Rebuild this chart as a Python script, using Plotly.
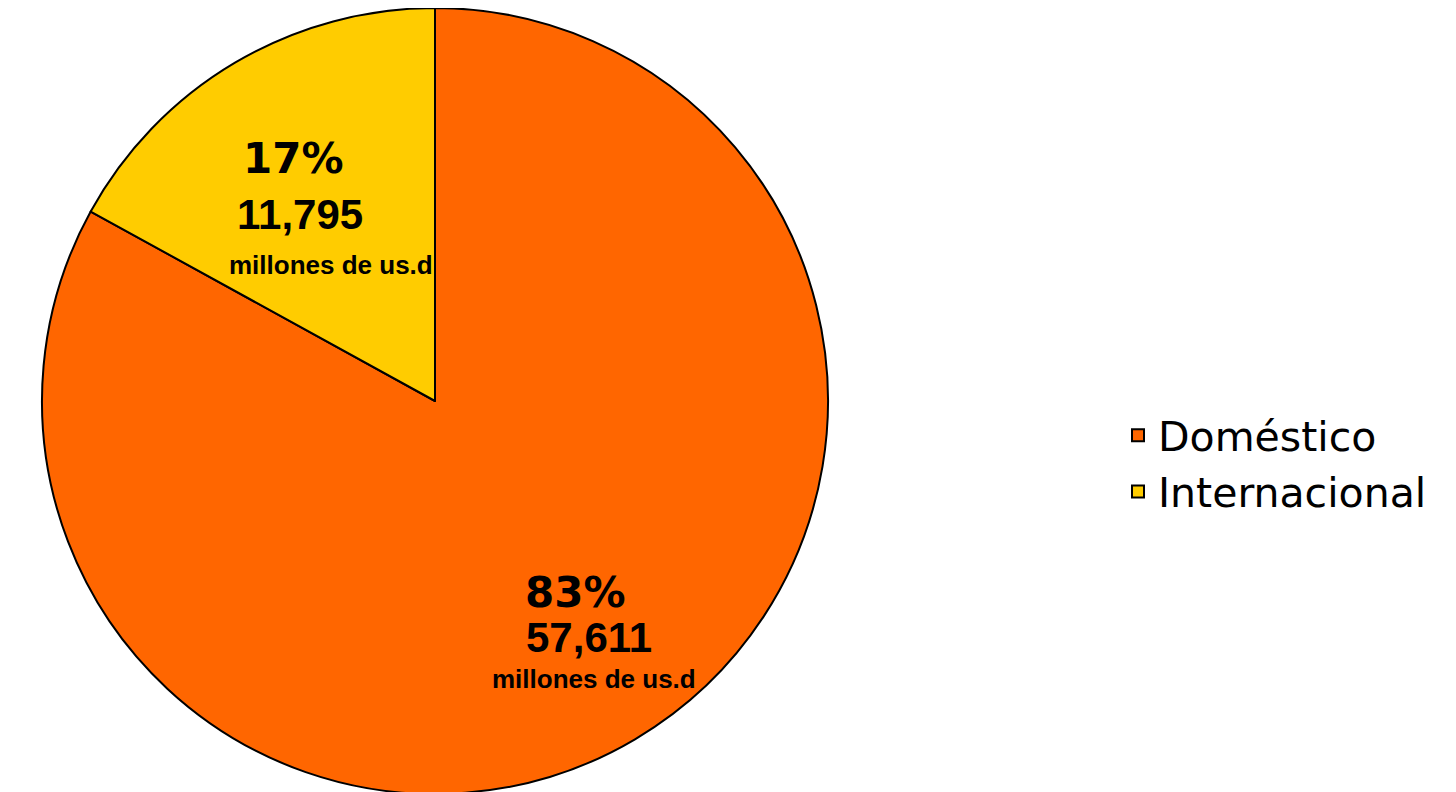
import plotly.graph_objects as go

categories = ["Doméstico", "Internacional"]
values = [57611, 11795]
unit_label = "millones de us.d"
colors = ["#FF6600", "#FFCC00"]

total = sum(values)
pcts = [round(v / total * 100) for v in values]

W, H = 1456, 792
OFF = 8  # page offset of the figure in the browser

fig = go.Figure()
fig.add_trace(go.Pie(
    labels=categories,
    values=values,
    sort=False,
    direction="clockwise",
    rotation=0,
    marker=dict(colors=colors, line=dict(color="black", width=2)),
    textinfo="none",
    hoverinfo="label+value+percent",
    domain=dict(x=[0, 2 * (435 - OFF) / W], y=[0, 1]),
))

# label centers in page pixels (position only)
label_pos = {
    0: [(575, 594), (589, 639), (594, 681)],
    1: [(293, 157), (300, 213), (331, 264)],
}
def px(x):
    return (x - OFF) / W
def py(y):
    return 1 - (y - 5) / H

for i, v in enumerate(values):
    (x1, y1), (x2, y2), (x3, y3) = label_pos[i]
    fig.add_annotation(x=px(x1), y=py(y1), xref="paper", yref="paper",
                       text=f"{pcts[i]}%", showarrow=False,
                       font=dict(family="DejaVu Sans", size=42, color="black", weight="bold"),
                       xanchor="center", yanchor="middle")
    fig.add_annotation(x=px(x2), y=py(y2), xref="paper", yref="paper",
                       text=f"{v:,}", showarrow=False,
                       font=dict(family="Liberation Sans", size=42, color="black", weight="bold"),
                       xanchor="center", yanchor="middle")
    fig.add_annotation(x=px(x3), y=py(y3), xref="paper", yref="paper",
                       text=unit_label, showarrow=False,
                       font=dict(family="Liberation Sans", size=26, color="black", weight="bold"),
                       xanchor="center", yanchor="middle")

fig.update_layout(
    width=W, height=H,
    margin=dict(l=0, r=0, t=0, b=6),
    paper_bgcolor="white",
    plot_bgcolor="white",
    showlegend=True,
    legend=dict(
        x=px(1118), y=py(464), xanchor="left", yanchor="middle",
        font=dict(family="DejaVu Sans", size=41, color="black"),
        itemwidth=30,
        bgcolor="rgba(0,0,0,0)",
    ),
)

fig.write_html("out.html")
